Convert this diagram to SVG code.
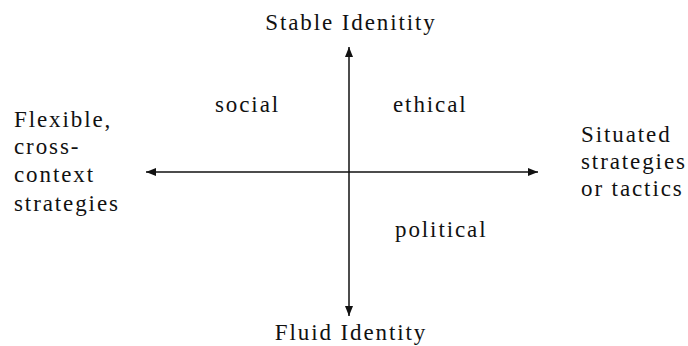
<svg xmlns="http://www.w3.org/2000/svg" width="688" height="346" viewBox="0 0 688 346">
<style>
text{font-family:"Liberation Serif","Times New Roman",serif;font-size:23px;fill:#111;letter-spacing:1.9px}
.ax{stroke:#111;stroke-width:1.5;fill:none}
</style>
<defs>
<marker id="ah" viewBox="0 0 10 8" refX="10" refY="4" markerWidth="10" markerHeight="8" markerUnits="userSpaceOnUse" orient="auto">
<path d="M0,0 L10,4 L0,8 Z" fill="#111"/>
</marker>
</defs>
<g id="connectors">
<line class="ax" x1="349" y1="172" x2="349" y2="47" marker-end="url(#ah)"/>
<line class="ax" x1="349" y1="172" x2="349" y2="316" marker-end="url(#ah)"/>
<line class="ax" x1="349" y1="172" x2="538" y2="172" marker-end="url(#ah)"/>
<line class="ax" x1="349" y1="172" x2="146" y2="172" marker-end="url(#ah)"/>
</g>
<g id="top"><text x="351" y="30" text-anchor="middle">Stable Idenitity</text></g>
<g id="bottom"><text x="351" y="340" text-anchor="middle">Fluid Identity</text></g>
<g id="left">
<text x="14" y="127">Flexible,</text>
<text x="14" y="154">cross-</text>
<text x="14" y="182">context</text>
<text x="14" y="211">strategies</text>
</g>
<g id="right">
<text x="581" y="142">Situated</text>
<text x="581" y="169">strategies</text>
<text x="581" y="196">or tactics</text>
</g>
<g id="social"><text x="215" y="112">social</text></g>
<g id="ethical"><text x="393" y="112">ethical</text></g>
<g id="political"><text x="395" y="237">political</text></g>
</svg>
